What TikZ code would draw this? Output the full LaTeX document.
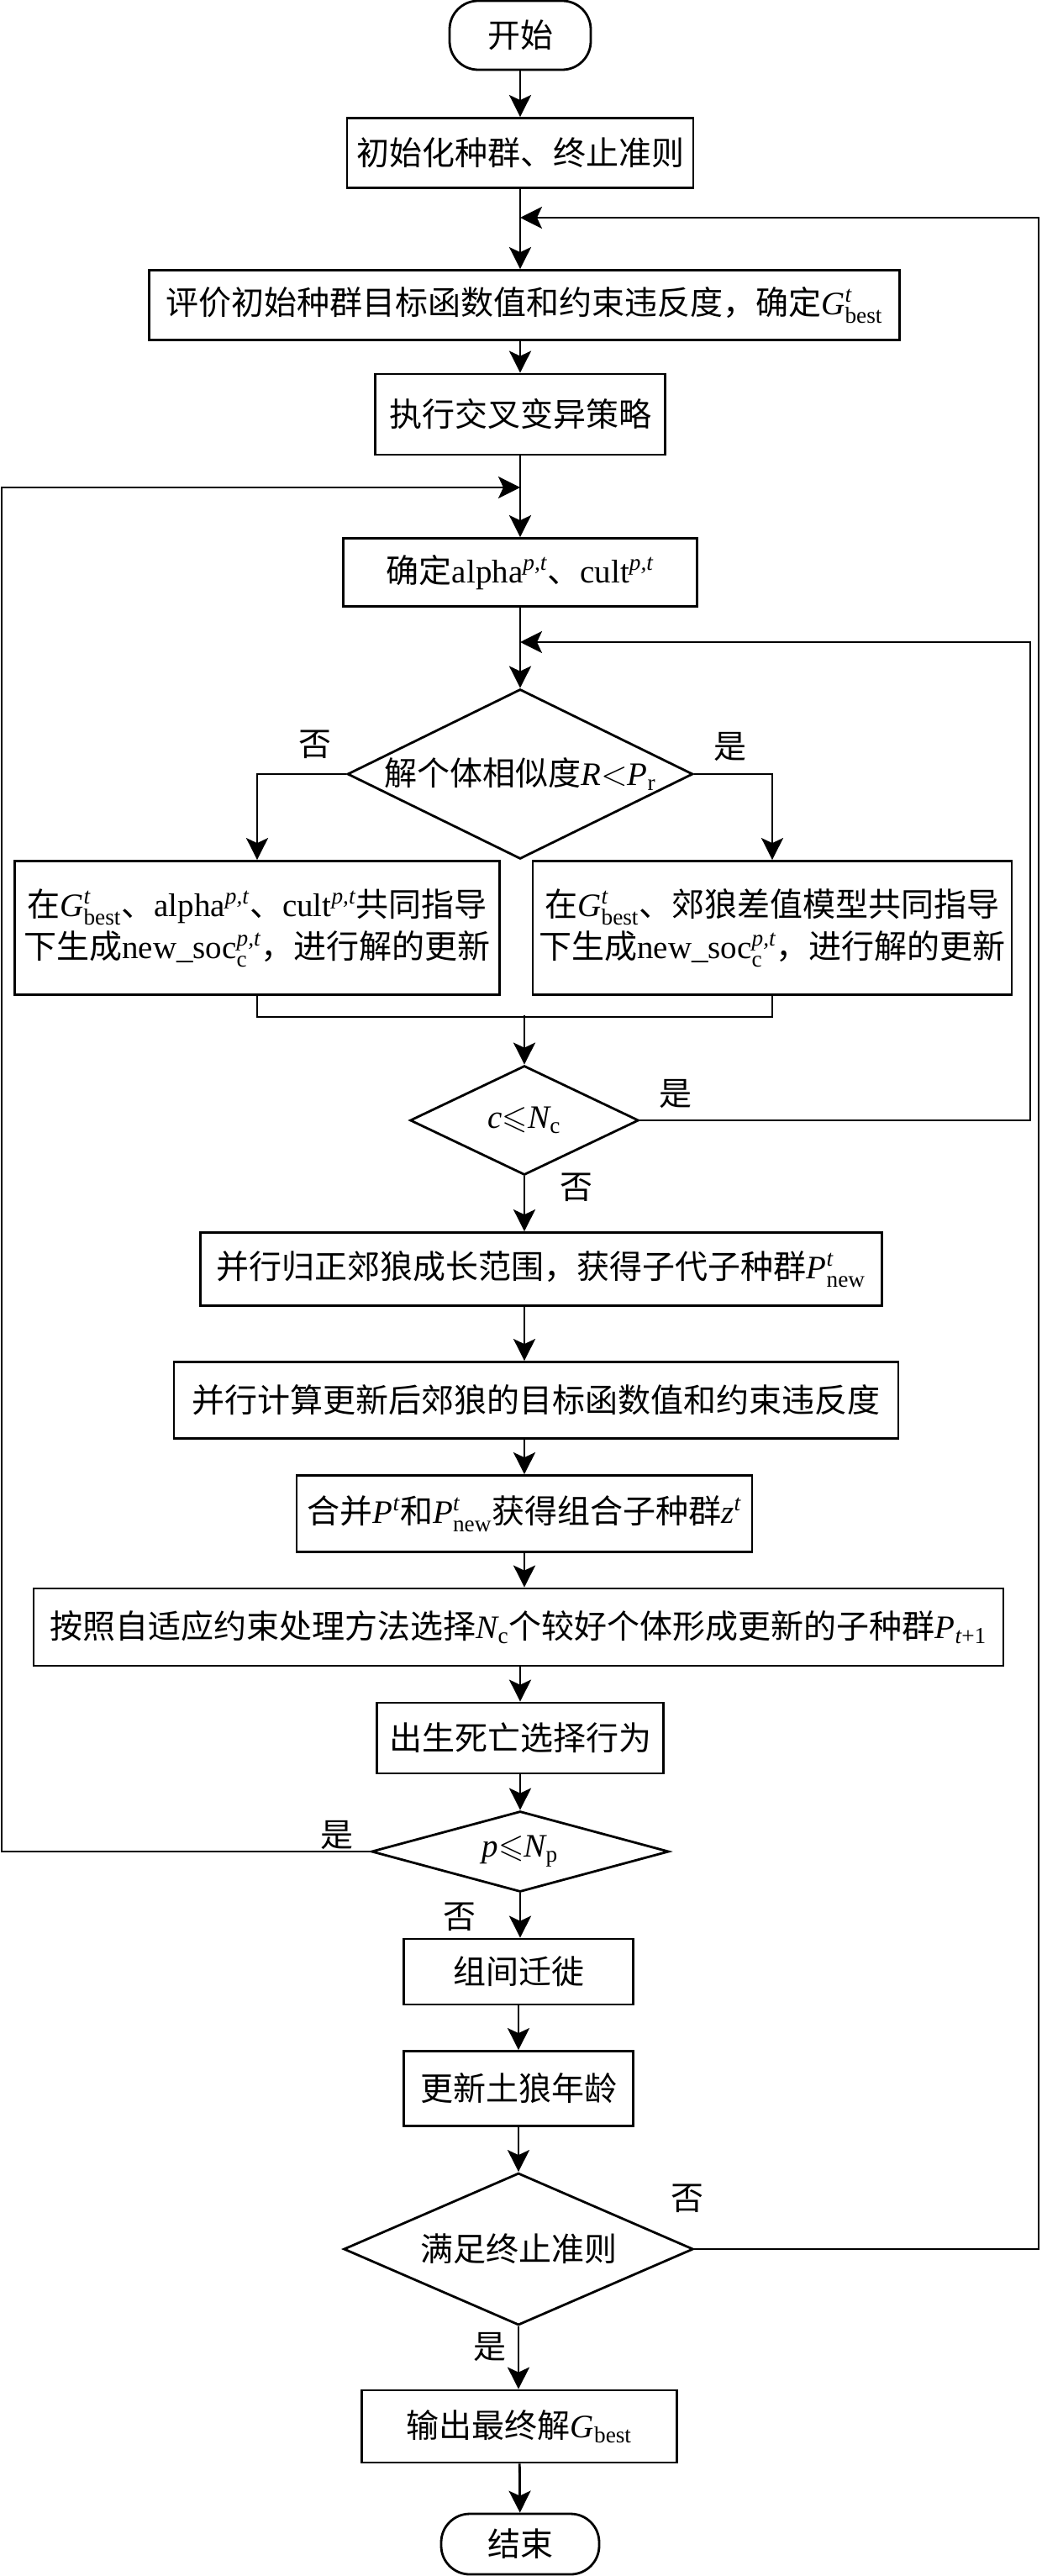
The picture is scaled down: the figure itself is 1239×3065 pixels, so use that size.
\documentclass[tikz,border=0pt]{standalone}
\usepackage{amsmath,amssymb}
\usepackage{fontspec}
\setmainfont{Noto Sans CJK SC}
\newfontfamily\tnr{Liberation Serif}
\usetikzlibrary{shapes.geometric,arrows.meta}
\newcommand{\figfont}{\fontsize{19.5}{25}\selectfont}
\newcommand{\mvar}[1]{\text{\tnr\itshape #1}}
\newcommand{\mrm}[1]{\text{\tnr #1}}
\newcommand{\Gbest}{$\mvar{G}^{\mvar{t}}_{\mrm{best}}$}
\newcommand{\suppt}{$^{\mvar{p,t}}$}

\tikzset{every picture/.style={line width=1.4pt}}

\begin{document}
\begin{tikzpicture}[x=0.5pt,y=0.5pt,yscale=-1,
	box/.style={draw,rectangle,inner sep=0pt,align=center,font=\figfont},
	term/.style={box,rounded corners=17pt},
	dec/.style={draw,diamond,inner sep=0pt,align=center,font=\figfont},
	lab/.style={inner sep=0pt,font=\figfont},
	arr/.style={-{Stealth[length=13pt,width=13pt,inset=3pt]}}]
	\useasboundingbox (0,0) rectangle (1239,3065);
	
	%Shape: Rounded Rect
	\node[term,minimum width=84pt,minimum height=41pt] (start) at (619,42) {开始};
	%Shape: Rectangle
	\node[box,minimum width=206pt,minimum height=41.5pt] (init) at (619,182) {初始化种群、终止准则};
	\node[box,minimum width=446.5pt,minimum height=41.5pt] (eval) at (624,363) {评价初始种群目标函数值和约束违反度，确定\Gbest};
	\node[box,minimum width=172.5pt,minimum height=48pt] (exec) at (619,493) {执行交叉变异策略};
	\node[box,minimum width=210.5pt,minimum height=40.5pt] (alpha) at (619,681) {确定{\tnr alpha}\suppt、{\tnr cult}\suppt};
	%Shape: Diamond
	\node[dec,aspect=2.03,minimum width=205.5pt,minimum height=101pt] (sim) at (619,921) {解个体相似度$\mvar{R}{<}\mvar{P}_{\mrm{r}}$};
	\node[box,minimum width=288.5pt,minimum height=79.5pt] (upa) at (306,1104) {在\Gbest、{\tnr alpha}\suppt、{\tnr cult}\suppt 共同指导\\下生成{\tnr new\_soc}$^{\mvar{p,t}}_{\mrm{c}}$，进行解的更新};
	\node[box,minimum width=285pt,minimum height=79.5pt] (upb) at (919,1104) {在\Gbest、郊狼差值模型共同指导\\下生成{\tnr new\_soc}$^{\mvar{p,t}}_{\mrm{c}}$，进行解的更新};
	\node[dec,aspect=2.1,minimum width=136pt,minimum height=65pt] (cc) at (624,1333) {$\mvar{c}{\leqslant}\mvar{N}_{\mrm{c}}$};
	\node[box,minimum width=405.5pt,minimum height=43.5pt] (grow) at (644,1510) {并行归正郊狼成长范围，获得子代子种群$\mvar{P}^{\mvar{t}}_{\mrm{new}}$};
	\node[box,minimum width=431pt,minimum height=45.5pt] (calc) at (638,1666) {并行计算更新后郊狼的目标函数值和约束违反度};
	\node[box,minimum width=271pt,minimum height=45.5pt] (merge) at (624,1801) {合并$\mvar{P}^{\mvar{t}}$和$\mvar{P}^{\mvar{t}}_{\mrm{new}}$获得组合子种群$\mvar{z}^{\mvar{t}}$};
	\node[box,minimum width=577pt,minimum height=46pt] (sel) at (617,1936) {按照自适应约束处理方法选择$\mvar{N}_{\mrm{c}}$个较好个体形成更新的子种群$\mvar{P}_{\mvar{t}\mrm{+1}}$};
	\node[box,minimum width=170.5pt,minimum height=42pt] (birth) at (619,2068) {出生死亡选择行为};
	\node[dec,aspect=3.7,minimum width=177pt,minimum height=48pt] (pp) at (619,2203) {$\mvar{p}{\leqslant}\mvar{N}_{\mrm{p}}$};
	\node[box,minimum width=136.5pt,minimum height=39pt] (migr) at (617,2346) {组间迁徙};
	\node[box,minimum width=136.5pt,minimum height=44.5pt] (age) at (617,2485) {更新土狼年龄};
	\node[dec,aspect=2.3,minimum width=208pt,minimum height=90.5pt] (stop) at (617,2676) {满足终止准则};
	\node[box,minimum width=187.5pt,minimum height=43pt] (out) at (618,2887) {输出最终解$\mvar{G}_{\mrm{best}}$};
	\node[term,minimum width=94pt,minimum height=36pt] (end) at (619,3027) {结束};
	
	%Labels
	\node[lab] (no1) at (375,886) {否};
	\node[lab] (yes1) at (869,888) {是};
	\node[lab] (yes2) at (804,1301) {是};
	\node[lab] (no2) at (686,1413) {否};
	\node[lab] (yes3) at (401,2183) {是};
	\node[lab] (no3) at (547,2281) {否};
	\node[lab] (no4) at (818,2616) {否};
	\node[lab] (yes4) at (583,2792) {是};
	
	%Coordinates of the loops
	\coordinate (fb1) at (619,259);
	\coordinate (r1) at (1236,259);
	\coordinate (fb2) at (619,764);
	\coordinate (r2) at (1226,764);
	\coordinate (fb3) at (619,580);
	\coordinate (l3) at (2,580);
	\coordinate (mg) at (624,1208);
	
	%Straight Lines
	\draw[arr] (start) -- (init);
	\draw[arr] (init.south) -- (init.south |- eval.north);
	\draw[arr] (eval.south -| exec.north) -- (exec.north);
	\draw[arr] (exec) -- (alpha);
	\draw[arr] (alpha) -- (sim);
	\draw[arr] (sim.west) -| (upa.north);
	\draw[arr] (sim.east) -| (upb.north);
	\draw (upa.south) -- ++(0,25) -| (upb.south);
	\draw[arr] (mg) -- (cc.north);
	\draw[arr] (cc.south) -- (cc.south |- grow.north);
	\draw[arr] (grow.south -| merge.north) -- (calc.north -| merge.north);
	\draw[arr] (calc.south -| merge.north) -- (merge.north);
	\draw[arr] (merge.south) -- (merge.south |- sel.north);
	\draw[arr] (sel.south -| birth.north) -- (birth.north);
	\draw[arr] (birth) -- (pp);
	\draw[arr] (pp.south) -- (pp.south |- migr.north);
	\draw[arr] (migr) -- (age);
	\draw[arr] (age) -- (stop);
	\draw[arr] (stop.south) -- (stop.south |- out.north);
	\draw[arr] (out) -- (end);
	
	%Loops back
	\draw[arr] (cc.east) -| (r2) -- (fb2);
	\draw[arr] (pp.west) -| (l3) -- (fb3);
	\draw[arr] (stop.east) -| (r1) -- (fb1);
\end{tikzpicture}
\end{document}
